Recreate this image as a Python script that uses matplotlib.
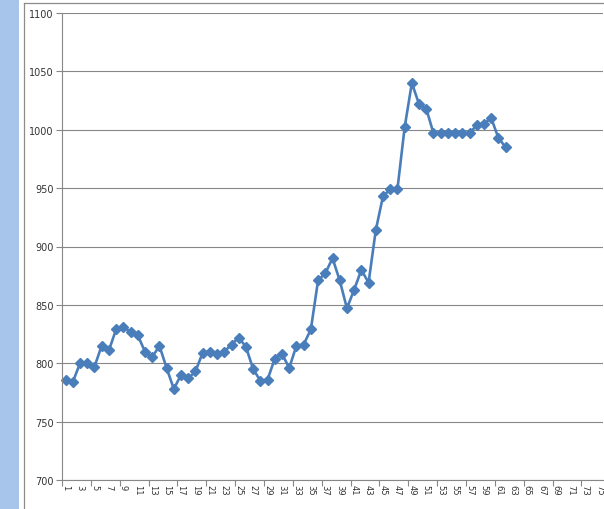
import matplotlib.pyplot as plt
from matplotlib.patches import Rectangle
from matplotlib.lines import Line2D
from matplotlib.ticker import FixedLocator

# series values, categories 1..62 (axis runs to 75)
values = [786, 784, 800, 800, 797, 815, 811, 829, 831, 827,
          824, 810, 805, 815, 796, 778, 790, 787, 793, 809,
          810, 808, 810, 816, 822, 814, 795, 785, 786, 804,
          808, 796, 815, 816, 829, 871, 877, 890, 871, 847,
          863, 880, 869, 914, 943, 949, 949, 1002, 1040, 1022,
          1018, 997, 997, 997, 997, 997, 997, 1004, 1005, 1010,
          993, 985]
n_categories = 75
x_labels = [str(i) for i in range(1, n_categories + 1, 2)]
y_ticks = [700, 750, 800, 850, 900, 950, 1000, 1050, 1100]

fig = plt.figure(figsize=(6.04, 5.10), dpi=100)
fig.patch.set_facecolor("white")

# left blue strip and chart-area border
fig.add_artist(Rectangle((0, 0), 19 / 604, 1, transform=fig.transFigure,
                         facecolor="#a7c4ea", edgecolor="none"))
fig.add_artist(Line2D([23.5 / 604, 23.5 / 604], [0, 1 - 3.5 / 510],
                      transform=fig.transFigure, color="#8c8c8c", lw=0.9))
fig.add_artist(Line2D([23.5 / 604, 1], [1 - 3.5 / 510, 1 - 3.5 / 510],
                      transform=fig.transFigure, color="#8c8c8c", lw=0.9))

ax = fig.add_axes([62 / 604, 1 - 481 / 510, 541 / 604, 467 / 510])
xs = list(range(1, len(values) + 1))
ax.plot(xs, values, color="#4a7ebb", lw=1.9, marker="D", markersize=4.6,
        markerfacecolor="#4a7ebb", markeredgecolor="#4a7ebb", clip_on=False)

ax.set_xlim(0.5, n_categories + 0.5)
ax.set_ylim(700, 1100)
ax.set_yticks(y_ticks)
ax.set_yticklabels([str(v) for v in y_ticks], fontsize=7, color="#333333")
ax.yaxis.grid(True, color="#878787", lw=0.8)
ax.set_axisbelow(True)

# labels at category centres, ticks at category boundaries every 4
ax.set_xticks(range(1, n_categories + 1, 2))
ax.set_xticklabels(x_labels, rotation=-90, fontsize=6, color="#333333")
ax.tick_params(axis="x", which="major", length=0, pad=3)
ax.xaxis.set_minor_locator(FixedLocator([0.5 + 4 * i for i in range(19)]))
ax.tick_params(axis="x", which="minor", length=4, color="#878787", width=0.8)
ax.tick_params(axis="y", length=4, color="#878787", width=0.8, pad=2)

for side in ("top", "right"):
    ax.spines[side].set_visible(False)
for side in ("left", "bottom"):
    ax.spines[side].set_color("#878787")
    ax.spines[side].set_linewidth(0.8)

fig.savefig("out.png", dpi=100)
